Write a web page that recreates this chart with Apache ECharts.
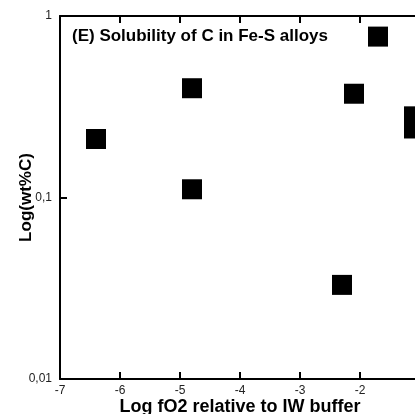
<!DOCTYPE html>
<html>
<head>
<meta charset="utf-8">
<script src="https://cdn.jsdelivr.net/npm/echarts@6/dist/echarts.min.js"></script>
<style>
  html, body { margin: 0; padding: 0; background: #fff; }
  #main { width: 415px; height: 414px; }
</style>
</head>
<body>
<div id="main"></div>
<script>
// log fO2 relative to IW vs wt% C
const logFO2 = [-6.4, -4.8, -4.8, -2.1, -2.3, -1.7, -1.1, -1.1];
const wtC = [0.21, 0.40, 0.111, 0.373, 0.033, 0.77, 0.28, 0.24];
const xTicks = [-7, -6, -5, -4, -3, -2, -1];
const yTicks = [0.01, 0.1, 1];

const font = '"Liberation Sans", Arial, sans-serif';

const points = logFO2.map((x, i) => [x, wtC[i]]);

const chart = echarts.init(document.getElementById('main'));
chart.setOption({
  animation: false,
  title: {
    text: '(E) Solubility of C in Fe-S alloys',
    left: 72,
    top: 28,
    padding: 0,
    textStyle: { fontFamily: font, fontWeight: 'bold', fontSize: 17, color: '#000' }
  },
  grid: { left: 60, top: 16, bottom: 35, right: -5, outerBoundsMode: 'none', containLabel: false },
  xAxis: [
    {
      type: 'value',
      min: xTicks[0],
      max: xTicks[xTicks.length - 1],
      interval: 1,
      name: 'Log fO2 relative to IW buffer',
      nameLocation: 'middle',
      nameGap: 19,
      nameMoveOverlap: false,
      nameTextStyle: { fontFamily: font, fontWeight: 'bold', fontSize: 18, color: '#000' },
      axisLine: { lineStyle: { color: '#000', width: 2 } },
      axisTick: { inside: true, length: 7, lineStyle: { color: '#000', width: 2 } },
      axisLabel: { fontFamily: font, fontSize: 12, color: '#222', margin: 6 },
      splitLine: { show: false }
    },
    {
      type: 'value',
      position: 'top',
      min: xTicks[0],
      max: xTicks[xTicks.length - 1],
      interval: 1,
      axisLine: { lineStyle: { color: '#000', width: 2 } },
      axisTick: { inside: true, length: 7, lineStyle: { color: '#000', width: 2 } },
      axisLabel: { show: false },
      splitLine: { show: false }
    }
  ],
  yAxis: {
    type: 'log',
    logBase: 10,
    min: yTicks[0],
    max: yTicks[yTicks.length - 1],
    name: 'Log(wt%C)',
    nameLocation: 'middle',
    nameGap: 25,
    nameMoveOverlap: false,
    nameTextStyle: { fontFamily: font, fontWeight: 'bold', fontSize: 17, color: '#000' },
    axisLine: { show: true, lineStyle: { color: '#000', width: 2 } },
    axisTick: { show: true, inside: true, length: 7, lineStyle: { color: '#000', width: 2 } },
    axisLabel: {
      fontFamily: font, fontSize: 12, color: '#222', margin: 8,
      formatter: (v) => String(v).replace('.', ',')
    },
    splitLine: { show: false }
  },
  series: [
    {
      type: 'scatter',
      symbol: 'rect',
      symbolSize: 20,
      itemStyle: { color: '#000', opacity: 1 },
      data: points
    }
  ]
});
</script>
</body>
</html>
